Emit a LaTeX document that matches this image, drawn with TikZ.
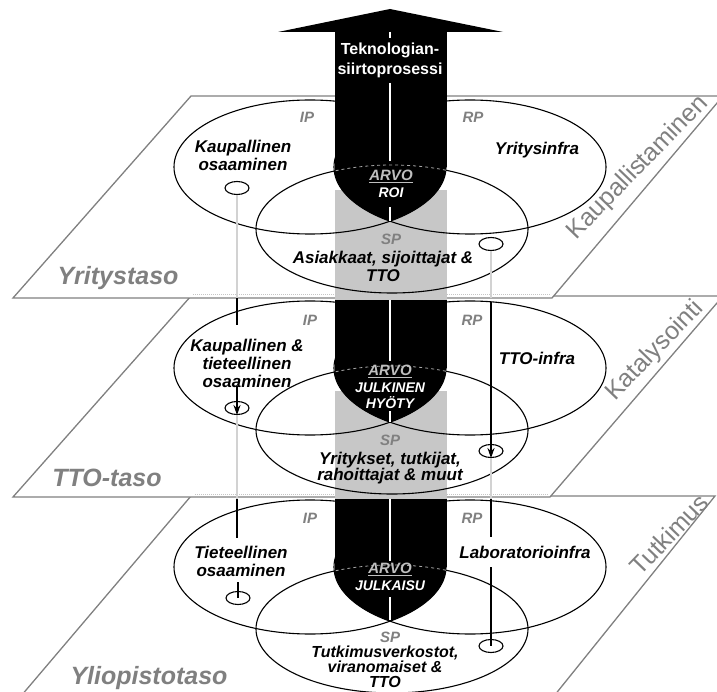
\documentclass[tikz,border=0pt]{standalone}
\usepackage{fontspec}
\setmainfont{Liberation Sans}
\usetikzlibrary{arrows,arrows.meta,positioning,shapes.geometric}
\tikzset{
	%Define standard arrow tip
	>={Stealth[length=10pt,width=7pt]},
	%Define style for the planes
	taso/.style={
		draw=gray,
		line width=1.3pt,
		fill=white},
	piilo/.style={
		draw=gray!45,
		line width=1pt,
		densely dotted},
	% Define style for ellipses
	soikio/.style={
		draw=black,
		line width=1.1pt},
	pikku/.style={
		ellipse,
		draw=black, line width=1.1pt,
		minimum width=24pt,
		minimum height=13pt,
		inner sep=0pt},
	% Define text styles
	teksti/.style={
		font=\bfseries\itshape\fontsize{17}{18}\selectfont,
		align=center,
		inner sep=0pt},
	prosessi/.style={
		text=white,
		font=\bfseries\fontsize{16}{20}\selectfont,
		align=center,
		inner sep=0pt},
	tunnus/.style={
		text=gray,
		font=\bfseries\itshape\fontsize{15}{15}\selectfont,
		inner sep=0pt},
	tasonimi/.style={
		text=gray,
		font=\bfseries\itshape\fontsize{25}{25}\selectfont,
		inner sep=0pt},
	vaihe/.style={
		text=gray,
		font=\fontsize{25}{25}\selectfont,
		rotate=46,
		inner sep=0pt},
	arvo/.style={
		text=black!25,
		font=\bfseries\itshape\fontsize{15}{15}\selectfont,
		inner sep=0pt},
	hyoty/.style={
		text=white,
		font=\bfseries\itshape\fontsize{14}{16}\selectfont,
		align=center,
		inner sep=0pt},
	% Define connector styles
	yhteys/.style={
		line width=1.3pt},
	piiloyhteys/.style={
		draw=gray!35,
		line width=1.3pt},
	keskiviiva/.style={
		white,
		line width=1.2pt}
}

\begin{document}
\begin{tikzpicture}[x=1pt, y=-1pt]
		\useasboundingbox (0,0) rectangle (717,692);
		% planes, lowest first
		\draw[taso] (21,696) -- (554,696) -- (715,496) -- (191,496) -- cycle;
		\draw[taso] (13,497) -- (550,497) -- (723,296) -- (191,296) -- cycle;
		\draw[taso] (13,298) -- (552,298) -- (723,96) -- (191,96) -- cycle;
		\draw[piilo] (193,295) -- (550,295);
		\draw[piilo] (195,494) -- (548,494);
		% grey column between the levels
		\fill[black!22] (335,190) rectangle (447,300);
		\fill[black!22] (335,391) rectangle (447,499);
		% IP, RP and SP ellipses of each level
		\foreach \dy in {0,201,400}{
			\draw[soikio] (310,167+\dy) ellipse [x radius=136pt, y radius=67pt];
			\draw[soikio] (470,167+\dy) ellipse [x radius=136pt, y radius=67pt];
			\draw[soikio] (392,229+\dy) ellipse [x radius=136pt, y radius=64pt];
		}
		% the big arrow
		\fill (278,32) -- (390,9) -- (503,32) -- cycle;
		\foreach \ytop/\dy in {32/0,300/201,499/400}{
			\fill (335,\ytop) rectangle (447,167+\dy);
			\begin{scope}
				\clip (310,167+\dy) ellipse [x radius=136pt, y radius=67pt];
				\clip (470,167+\dy) ellipse [x radius=136pt, y radius=67pt];
				\fill (335,160+\dy) rectangle (447,240+\dy);
			\end{scope}
			% SP edge seen through the arrow
			\begin{scope}
				\clip (335,150+\dy) rectangle (447,200+\dy);
				\draw[black!35, dashed, line width=0.8pt] (392,229+\dy) ellipse [x radius=136pt, y radius=64pt];
			\end{scope}
		}
		\draw[keskiviiva] (390,32) -- (390,38);
		\draw[keskiviiva] (390,83) -- (390,161);
		\draw[keskiviiva] (390,207) -- (390,221);
		\draw[keskiviiva] (390,300) -- (390,361);
		\draw[keskiviiva] (390,411) -- (390,422);
		\draw[keskiviiva] (390,499) -- (390,561);
		\draw[keskiviiva] (390,597) -- (390,620);
		\node[prosessi] (tek) at (390,60) {Teknologian-\\siirtoprosessi};
		%level 1
		\node[tunnus] (ip1) at (307,117) {IP};
		\node[tunnus] (rp1) at (473,117) {RP};
		\node[teksti] (kaup1) at (243,155) {Kaupallinen\\osaaminen};
		\node[teksti] (infra1) at (537,150) {Yritysinfra};
		\node[arvo] (arvo1) at (391,176) {\underline{ARVO}};
		\node[hyoty] (roi) at (391,193) {ROI};
		\node[tunnus] (sp1) at (391,239) {SP};
		\node[teksti] (asiak) at (383,266) {Asiakkaat, sijoittajat \&\\TTO};
		\node[vaihe] (kaupall) at (638,168) {Kaupallistaminen};
		\node[tasonimi] (yritystaso) at (118,278) {Yritystaso};
		%level 2
		\node[tunnus] (ip2) at (310,320) {IP};
		\node[tunnus] (rp2) at (472,320) {RP};
		\node[teksti] (kaup2) at (247,363) {Kaupallinen \&\\tieteellinen\\osaaminen};
		\node[teksti] (infra2) at (537,358) {TTO-infra};
		\node[arvo] (arvo2) at (390,371) {\underline{ARVO}};
		\node[hyoty] (hyoty2) at (390,396) {JULKINEN\\HYÖTY};
		\node[tunnus] (sp2) at (390,440) {SP};
		\node[teksti, font=\bfseries\itshape\fontsize{17}{16}\selectfont] (yrit2) at (390,468) {Yritykset, tutkijat,\\rahoittajat \& muut};
		\node[vaihe] (katal) at (655,351) {Katalysointi};
		\node[tasonimi] (ttotaso) at (107,478) {TTO-taso};
		%level 3
		\node[tunnus] (ip3) at (310,518) {IP};
		\node[tunnus] (rp3) at (472,518) {RP};
		\node[teksti] (tiet3) at (241,561) {Tieteellinen\\osaaminen};
		\node[teksti] (lab3) at (525,552) {Laboratorioinfra};
		\node[arvo] (arvo3) at (390,569) {\underline{ARVO}};
		\node[hyoty] (julkaisu) at (390,586) {JULKAISU};
		\node[tunnus] (sp3) at (390,637) {SP};
		\node[teksti, font=\bfseries\itshape\fontsize{16}{15}\selectfont] (tutk3) at (385,667) {Tutkimusverkostot,\\viranomaiset \&\\TTO};
		\node[vaihe] (tutkimus) at (669,534) {Tutkimus};
		\node[tasonimi] (yliopisto) at (149,678) {Yliopistotaso};
		% small ellipses
		\node[pikku] (kl1) at (237,188) {};
		\node[pikku] (kr1) at (491,244) {};
		\node[pikku] (kl2) at (237,408) {};
		\node[pikku] (kr2) at (491,451) {};
		\node[pikku] (kl3) at (238,598) {};
		\node[pikku] (kr3) at (491,646) {};
		% connectors through the levels
		\coordinate (vl1) at (237,298);
		\coordinate (vl2) at (237,325);
		\coordinate (vl3) at (237,386);
		\coordinate (vl4) at (237,499);
		\coordinate (vl5) at (237,538);
		\coordinate (vl6) at (238,582);
		\coordinate (vr1) at (491,298);
		\coordinate (vr2) at (491,302);
		\coordinate (vr3) at (491,499);
		\coordinate (vr4) at (491,537);
		\coordinate (vr5) at (491,567);
		\draw[piiloyhteys] (kl1.south) -- (vl1);
		\draw[yhteys] (vl1) -- (vl2);
		\draw[yhteys,->] (vl3) -- (kl2.south);
		\draw[piiloyhteys] (kl2.south) -- (vl4);
		\draw[yhteys] (vl4) -- (vl5);
		\draw[yhteys] (vl6) -- (kl3.center);
		\draw[piiloyhteys] (kr1.south) -- (vr1);
		\draw[yhteys,->] (vr2) -- (kr2.south);
		\draw[piiloyhteys] (kr2.south) -- (vr3);
		\draw[yhteys] (vr3) -- (vr4);
		\draw[yhteys] (vr5) -- (kr3.center);
		\end{tikzpicture}
\end{document}
